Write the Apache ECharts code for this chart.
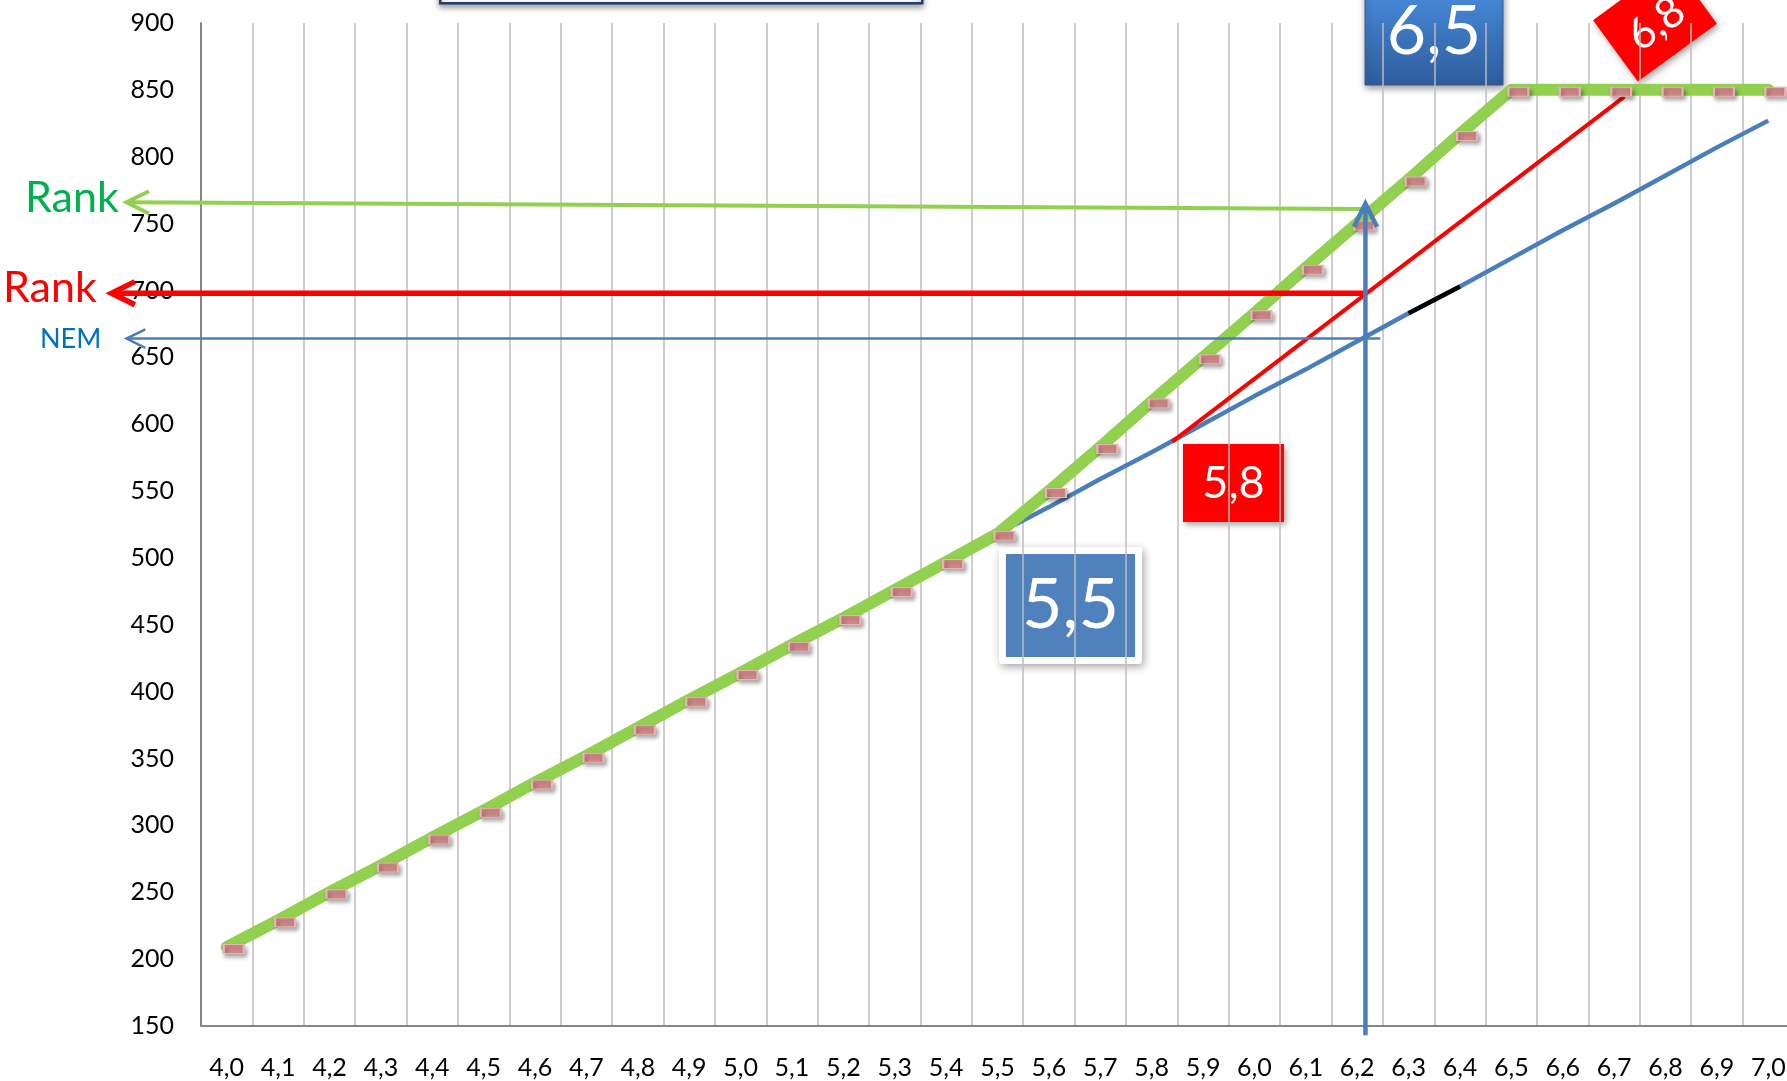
<!DOCTYPE html>
<html>
<head>
<meta charset="utf-8">
<script src="https://cdn.jsdelivr.net/npm/echarts@6/dist/echarts.min.js"></script>
<style>
  html, body { margin: 0; padding: 0; background: #fff; }
  #chart { width: 1787px; height: 1081px; }
</style>
</head>
<body>
<div id="chart"></div>
<script>
// categorias (nota) e valores
const grades = ['4,0', '4,1', '4,2', '4,3', '4,4', '4,5', '4,6', '4,7', '4,8', '4,9',
  '5,0', '5,1', '5,2', '5,3', '5,4', '5,5', '5,6', '5,7', '5,8', '5,9',
  '6,0', '6,1', '6,2', '6,3', '6,4', '6,5', '6,6', '6,7', '6,8', '6,9', '7,0'];

// linha verde (Rank) com marcadores
const rankGreen = [209, 229, 250, 270, 291, 311, 332, 352, 373, 394,
  414, 435, 455, 476, 497, 518, 550, 583, 617, 650,
  683, 717, 750, 783, 817, 850, 850, 850, 850, 850, 850];

// linha azul (NEM)
const nemBlue = [209, 229, 250, 270, 291, 311, 332, 352, 373, 394,
  414, 435, 455, 476, 497, 518, 538, 559, 579, 600,
  621, 641, 662, 683, 703, 724, 745, 765, 786, 807, 827];

// trecho preto sobre a linha azul
const nemBlack = [null, null, null, null, null, null, null, null, null, null,
  null, null, null, null, null, null, null, null, null, null,
  null, null, null, 683, 703, null, null, null, null, null, null];

// linha vermelha (nota, rank)
const rankRed = [[5.84, 587], [6.72, 845]];

// setas: [nota inicio, valor inicio, nota ponta, valor ponta]
const arrowGreen = [[6.215, 761, 3.805, 766]];
const arrowRed = [[6.215, 698, 3.776, 698]];
const arrowNem = [[6.245, 664, 3.805, 664]];
const arrowUp = [[6.216, 143, 6.216, 765]];

const FONT = 'Lato';

// seta desenhada pelas escalas do grafico
function arrowSeries(name, data, color, width, headLen) {
  return {
    name: name,
    type: 'custom',
    xAxisIndex: 1,
    yAxisIndex: 0,
    z: 10,
    clip: false,
    silent: true,
    encode: { x: [0, 2], y: [1, 3] },
    data: data,
    renderItem: function (params, api) {
      const a = api.coord([api.value(0), api.value(1)]);
      const b = api.coord([api.value(2), api.value(3)]);
      const ang = Math.atan2(b[1] - a[1], b[0] - a[0]);
      const h = 0.46;
      const p1 = [b[0] - headLen * Math.cos(ang - h), b[1] - headLen * Math.sin(ang - h)];
      const p2 = [b[0] - headLen * Math.cos(ang + h), b[1] - headLen * Math.sin(ang + h)];
      return {
        type: 'group',
        children: [
          { type: 'line', shape: { x1: a[0], y1: a[1], x2: b[0], y2: b[1] },
            style: { stroke: color, lineWidth: width } },
          { type: 'polyline', shape: { points: [p1, b, p2] },
            style: { stroke: color, lineWidth: width, fill: null, lineJoin: 'miter' } }
        ]
      };
    }
  };
}

const chart = echarts.init(document.getElementById('chart'));

const option = {
  animation: false,
  textStyle: { fontFamily: FONT },
  grid: { left: 201, top: 23, right: -7, bottom: 55, containLabel: false, outerBoundsMode: 'none' },
  xAxis: [
    {
      type: 'category',
      data: grades,
      boundaryGap: true,
      axisLine: { show: true, lineStyle: { color: '#868686', width: 2 } },
      axisTick: { show: false },
      axisLabel: { interval: 0, fontSize: 25, color: '#000', margin: 29, fontFamily: FONT },
      splitLine: { show: true, interval: 0, lineStyle: { color: '#BDBDBD', width: 1.5 } }
    },
    { type: 'value', min: 3.95, max: 7.05, show: false }
  ],
  yAxis: {
    type: 'value',
    min: 150,
    max: 900,
    interval: 50,
    axisLine: { show: true, lineStyle: { color: '#868686', width: 2 } },
    axisTick: { show: false },
    splitLine: { show: false },
    axisLabel: { fontSize: 25, color: '#000', margin: 27, fontFamily: FONT }
  },
  series: [
    {
      name: 'NEM',
      type: 'line',
      data: nemBlue,
      symbol: 'none',
      z: 2,
      lineStyle: { color: '#4A7EBB', width: 4.5 }
    },
    {
      name: 'NEM trecho',
      type: 'line',
      data: nemBlack,
      symbol: 'none',
      z: 3,
      lineStyle: { color: '#000', width: 4.5 }
    },
    {
      name: 'Rank vermelho',
      type: 'line',
      xAxisIndex: 1,
      data: rankRed,
      symbol: 'none',
      z: 4,
      lineStyle: { color: '#FF0000', width: 4 }
    },
    {
      name: 'Rank',
      type: 'line',
      data: rankGreen,
      z: 5,
      showAllSymbol: true,
      symbol: 'rect',
      symbolSize: [20, 9],
      symbolOffset: [7, 2],
      lineStyle: { color: '#92D050', width: 12, cap: 'round', join: 'round' },
      itemStyle: {
        color: '#CF8988', borderColor: '#E6B4B3', borderWidth: 1.5,
        shadowBlur: 4, shadowColor: 'rgba(0,0,0,0.35)', shadowOffsetX: 2, shadowOffsetY: 3
      }
    },
    arrowSeries('seta verde', arrowGreen, '#92D050', 4, 25),
    arrowSeries('seta vermelha', arrowRed, '#FF0000', 5.5, 26),
    arrowSeries('seta NEM', arrowNem, '#4A7EBB', 2.5, 21),
    arrowSeries('seta vertical', arrowUp, '#4A7EBB', 4.5, 26)
  ],
  graphic: [
    // borda inferior da caixa no topo
    {
      type: 'rect', left: 439, top: -60, z: 20,
      shape: { width: 482, height: 62 },
      style: { fill: '#fff', stroke: '#1F3F6E', lineWidth: 2.5,
        shadowBlur: 6, shadowColor: 'rgba(0,0,0,0.4)', shadowOffsetY: 3 }
    },
    // textos das setas
    { type: 'text', x: 25, y: 198, z: 20,
      style: { text: 'Rank', fill: '#00B050', fontSize: 43, fontFamily: FONT, verticalAlign: 'middle' } },
    { type: 'text', x: 3, y: 288, z: 20,
      style: { text: 'Rank', fill: '#FF0000', fontSize: 43, fontFamily: FONT, verticalAlign: 'middle' } },
    { type: 'text', x: 40, y: 339, z: 20,
      style: { text: 'NEM', fill: '#0070C0', fontSize: 27, fontFamily: FONT, verticalAlign: 'middle' } },
    // caixa 5,5
    {
      type: 'group', x: 999, y: 547, z: 20,
      children: [
        { type: 'rect', shape: { x: 0, y: 0, width: 143, height: 117, r: 3 },
          style: { fill: '#fff', shadowBlur: 8, shadowColor: 'rgba(0,0,0,0.35)', shadowOffsetX: 2, shadowOffsetY: 3 } },
        { type: 'rect', shape: { x: 7, y: 7, width: 129, height: 103 }, style: { fill: '#4F81BD' } },
        { type: 'text', x: 71.5, y: 58,
          style: { text: '5,5', fill: '#fff', fontSize: 70, fontFamily: FONT, align: 'center', verticalAlign: 'middle' } }
      ]
    },
    // caixa 5,8
    {
      type: 'group', x: 1183, y: 444, z: 20,
      children: [
        { type: 'rect', shape: { x: 0, y: 0, width: 101, height: 78 },
          style: { fill: '#FF0000', shadowBlur: 6, shadowColor: 'rgba(0,0,0,0.35)', shadowOffsetX: 2, shadowOffsetY: 3 } },
        { type: 'text', x: 50.5, y: 39,
          style: { text: '5,8', fill: '#fff', fontSize: 45, fontFamily: FONT, align: 'center', verticalAlign: 'middle' } }
      ]
    },
    // caixa 6,5
    {
      type: 'group', x: 1365, y: -20, z: 20,
      children: [
        { type: 'rect', shape: { x: 0, y: 0, width: 138, height: 105 },
          style: {
            fill: new echarts.graphic.LinearGradient(0, 0, 0, 1, [
              { offset: 0, color: '#4A90E2' },
              { offset: 1, color: '#2E5C9C' }
            ]),
            stroke: '#385D8A', lineWidth: 1,
            shadowBlur: 7, shadowColor: 'rgba(0,0,0,0.4)', shadowOffsetX: 1, shadowOffsetY: 3
          } },
        { type: 'text', x: 69, y: 52,
          style: { text: '6,5', fill: '#fff', fontSize: 68, fontFamily: FONT, align: 'center', verticalAlign: 'middle' } }
      ]
    },
    // caixa 6,8 inclinada
    {
      type: 'group', x: 1655, y: 22, rotation: 0.63, z: 20,
      children: [
        { type: 'rect', shape: { x: -49, y: -38, width: 98, height: 76 },
          style: { fill: '#FF0000', shadowBlur: 6, shadowColor: 'rgba(0,0,0,0.35)', shadowOffsetX: 2, shadowOffsetY: 3 } },
        { type: 'text', x: 0, y: 2,
          style: { text: '6,8', fill: '#fff', fontSize: 43, fontFamily: FONT, align: 'center', verticalAlign: 'middle' } }
      ]
    }
  ]
};

chart.setOption(option);
</script>
</body>
</html>
